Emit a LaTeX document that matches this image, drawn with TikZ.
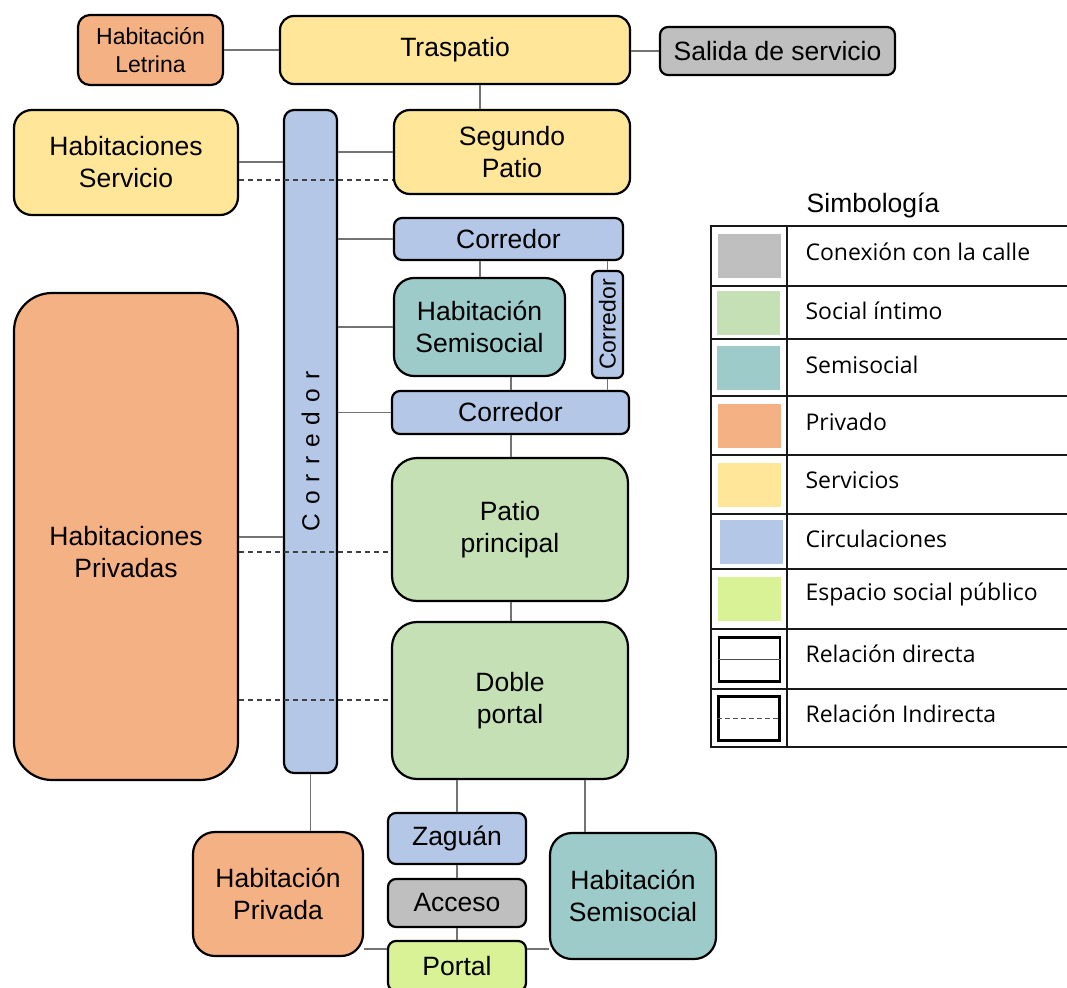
\documentclass[tikz,border=0pt]{standalone}
\usepackage{fontspec}
\setmainfont{Liberation Sans}
\newfontfamily\legendfont{Open Sans}
\usetikzlibrary{calc}

\definecolor{privado}{HTML}{F4B183}
\definecolor{servicio}{HTML}{FFE699}
\definecolor{calle}{HTML}{BFBFBF}
\definecolor{circ}{HTML}{B4C7E7}
\definecolor{semisocial}{HTML}{9DCBC9}
\definecolor{intimo}{HTML}{C5E0B4}
\definecolor{publico}{HTML}{D9F296}

\tikzset{
  box/.style={draw=black, line width=2.2pt, rounded corners=#1, align=center,
    inner sep=0pt, font=\fontsize{26.5}{32}\selectfont},
  box/.default=12pt,
  link/.style={draw=black!55, line width=1.3pt},
  dlink/.style={draw=black!75, line width=1.2pt, dash pattern=on 5pt off 4pt},
  swatch/.style={inner sep=0pt, minimum width=63pt, minimum height=44pt},
  legtext/.style={anchor=west, font=\legendfont\fontsize{23}{26}\selectfont},
  tab/.style={line width=2pt, draw=black!90}
}

\begin{document}
\begin{tikzpicture}[x=1pt,y=-1pt]
\useasboundingbox (0,0) rectangle (1067,987);

% ---------- spaces ----------
\node[box=12pt, fill=privado, minimum width=145pt, minimum height=70pt,
      font=\fontsize{23}{28}\selectfont] (letrina) at (150.5,50) {Habitación\\Letrina};
\node[box=14pt, fill=servicio, minimum width=350pt, minimum height=68pt] (traspatio) at (455,50) {Traspatio};
\node[box=8pt, fill=calle, minimum width=235pt, minimum height=48pt] (salida) at (777.5,51) {Salida de servicio};

\node[box=18pt, fill=servicio, minimum width=224pt, minimum height=105pt] (hserv) at (126,162.5) {Habitaciones\\Servicio};
\node[box=10pt, fill=circ, minimum width=53pt, minimum height=663pt,
      label={[rotate=90, xshift=-10pt, font=\fontsize{24.5}{24}\selectfont]center:C\kern9pt o\kern9pt r\kern9pt r\kern9pt e\kern9pt d\kern9pt o\kern9pt r}] (corrV) at (310.5,441.5) {};

\node[box=16pt, fill=servicio, minimum width=236pt, minimum height=84pt] (segundo) at (512,152) {Segundo\\Patio};
\node[box=8pt, fill=circ, minimum width=229pt, minimum height=42pt] (corr1) at (508.5,239) {Corredor};
\node[box=20pt, fill=semisocial, minimum width=171pt, minimum height=98pt] (hsemi) at (479.5,327) {Habitación\\Semisocial};
\node[box=6pt, fill=circ, minimum width=31pt, minimum height=107pt,
      label={[rotate=90, font=\fontsize{23}{23}\selectfont]center:Corredor}] (corrS) at (607.5,324.5) {};
\node[box=8pt, fill=circ, minimum width=237pt, minimum height=43pt] (corr2) at (510.5,412.5) {Corredor};
\node[box=25pt, fill=intimo, minimum width=236pt, minimum height=143pt] (patio) at (510,529.5) {Patio\\principal};
\node[box=25pt, fill=intimo, minimum width=236pt, minimum height=157pt] (doble) at (510,700.5) {Doble\\portal};

\node[box=38pt, fill=privado, minimum width=224pt, minimum height=487pt,
      label={[yshift=-16pt, align=center, font=\fontsize{26.5}{32}\selectfont]center:Habitaciones\\Privadas}] (hpriv) at (126,536.5) {};

\node[box=8pt, fill=circ, minimum width=138pt, minimum height=51pt] (zaguan) at (457,838.5) {Zaguán};
\node[box=8pt, fill=calle, minimum width=138pt, minimum height=48pt] (acceso) at (457,903) {Acceso};
\node[box=8pt, fill=publico, minimum width=138pt, minimum height=50pt] (portal) at (457,966) {Portal};
\node[box=22pt, fill=privado, minimum width=170pt, minimum height=124pt] (hprivada) at (278,894) {Habitación\\Privada};
\node[box=22pt, fill=semisocial, minimum width=166pt, minimum height=126pt] (hsemi2) at (633,896) {Habitación\\Semisocial};

% ---------- direct relations ----------
\draw[link] (letrina.east) -- (letrina.east -| traspatio.west);
\draw[link] (traspatio.east |- salida.west) -- (salida.west);
\draw[link] (480,0 |- traspatio.south) -- (480,0 |- segundo.north);
\draw[link] (hserv.east |- 0,162) -- (corrV.west |- 0,162);
\draw[link] (corrV.east |- 0,152) -- (segundo.west |- 0,152);
\draw[link] (corrV.east |- corr1.west) -- (corr1.west);
\draw[link] (480,0 |- corr1.south) -- (480,0 |- hsemi.north);
\draw[link] (corr1.south -| corrS.north) -- (corrS.north);
\draw[link] (corrV.east |- hsemi.west) -- (hsemi.west);
\draw[link] (511,0 |- hsemi.south) -- (511,0 |- corr2.north);
\draw[link] (corrS.south) -- (corrS.south |- corr2.north);
\draw[link] (corrV.east |- corr2.west) -- (corr2.west);
\draw[link] (511,0 |- corr2.south) -- (511,0 |- patio.north);
\draw[link] (hpriv.east |- 0,537) -- (corrV.west |- 0,537);
\draw[link] (511,0 |- patio.south) -- (511,0 |- doble.north);
\draw[link] (corrV.south) -- (corrV.south |- hprivada.north);
\draw[link] (doble.south -| zaguan.north) -- (zaguan.north);
\draw[link] (585,0 |- doble.south) -- (585,0 |- hsemi2.north);
\draw[link] (zaguan.south) -- (acceso.north);
\draw[link] (acceso.south) -- (portal.north);
\draw[link] (hprivada.east |- 0,949) -- (portal.west |- 0,949);
\draw[link] (portal.east |- 0,949) -- (hsemi2.west |- 0,949);

% ---------- indirect relations ----------
\draw[dlink] (hserv.east |- 0,180) -- (segundo.west |- 0,180);
\draw[dlink] (hpriv.east |- 0,552) -- (patio.west |- 0,552);
\draw[dlink] (hpriv.east |- 0,700) -- (doble.west |- 0,700);

% ---------- legend ----------
\node[font=\fontsize{26.5}{30}\selectfont] (simb) at (873,205) {Simbología};

\foreach \yy in {226,286,339,396,455,514,569,629,689,747}
  \draw[tab] (710,\yy) -- (1070,\yy);
\draw[tab] (711,225) -- (711,748);
\draw[tab] (787,225) -- (787,748);

\node[swatch, fill=calle]      (sw1) at (749.5,256) {};
\node[swatch, fill=intimo]     (sw2) at (748.5,312.5) {};
\node[swatch, fill=semisocial] (sw3) at (748,367.5) {};
\node[swatch, fill=privado]    (sw4) at (749.5,425.5) {};
\node[swatch, fill=servicio]   (sw5) at (749.5,484.5) {};
\node[swatch, fill=circ]       (sw6) at (751,541.5) {};
\node[swatch, fill=publico]    (sw7) at (749.5,599) {};
\node[swatch, draw=black, line width=2.2pt, minimum width=61pt, minimum height=44pt] (sw8) at (749.5,659.5) {};
\node[swatch, draw=black, line width=2.2pt, minimum width=61pt, minimum height=44pt] (sw9) at (749,718.5) {};
\draw[line width=0.9pt, draw=black!70] (sw8.west) -- (sw8.east);
\draw[line width=0.9pt, draw=black!70, dash pattern=on 5pt off 3pt] (sw9.west) -- (sw9.east);

\node[legtext] (t1) at (802,252) {Conexión con la calle};
\node[legtext] (t2) at (802,311) {Social íntimo};
\node[legtext] (t3) at (802,365) {Semisocial};
\node[legtext] (t4) at (802,422) {Privado};
\node[legtext] (t5) at (802,480) {Servicios};
\node[legtext] (t6) at (802,539) {Circulaciones};
\node[legtext] (t7) at (802,594) {Espacio social público};
\node[legtext] (t8) at (802,654) {Relación directa};
\node[legtext] (t9) at (802,714) {Relación Indirecta};
\end{tikzpicture}
\end{document}
